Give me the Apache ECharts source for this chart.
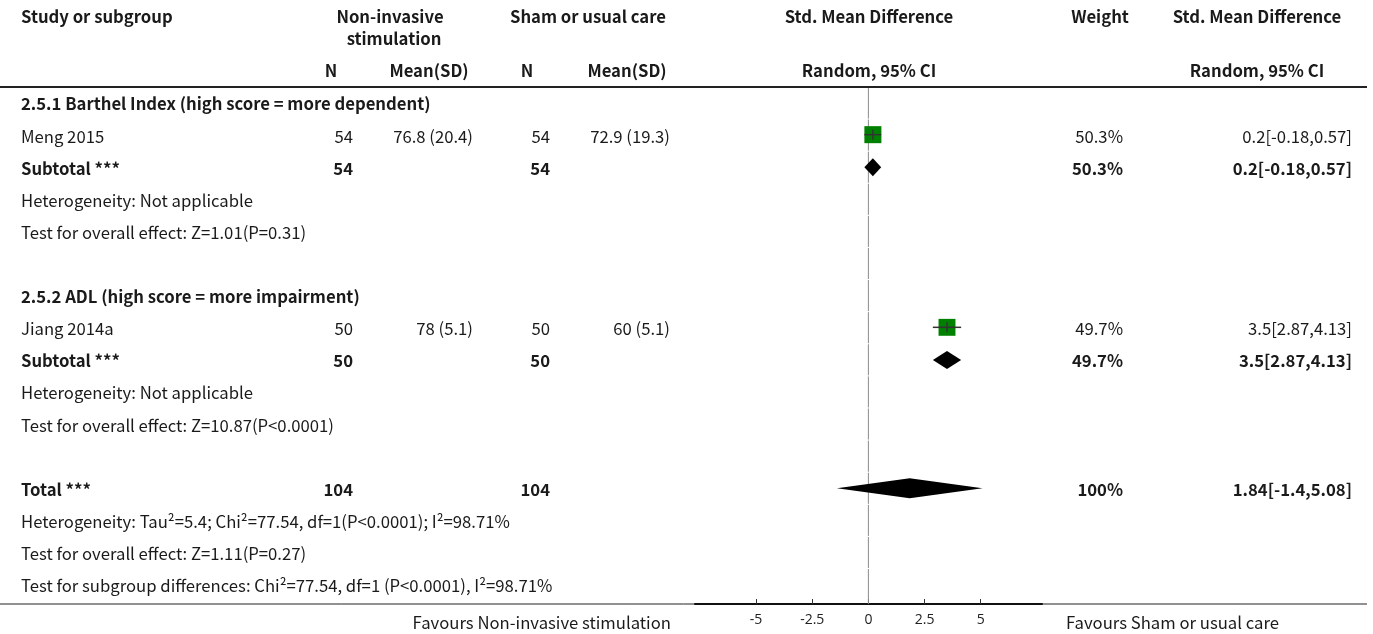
<!DOCTYPE html>
<html><head><meta charset="utf-8">
<script src="https://cdn.jsdelivr.net/npm/echarts@6/dist/echarts.min.js"></script>
<style>html,body{margin:0;padding:0;background:#fff}#c{width:1373px;height:634px}</style>
</head><body><div id="c"></div>
<script>
// ---- data ----
const rowLabels = [
  '2.5.1 Barthel Index (high score = more dependent)',
  'Meng 2015',
  'Subtotal ***',
  'Heterogeneity: Not applicable',
  'Test for overall effect: Z=1.01(P=0.31)',
  '',
  '2.5.2 ADL (high score = more impairment)',
  'Jiang 2014a',
  'Subtotal ***',
  'Heterogeneity: Not applicable',
  'Test for overall effect: Z=10.87(P<0.0001)',
  '',
  'Total ***',
  'Heterogeneity: Tau\u00B2=5.4; Chi\u00B2=77.54, df=1(P<0.0001); I\u00B2=98.71%',
  'Test for overall effect: Z=1.11(P=0.27)',
  'Test for subgroup differences: Chi\u00B2=77.54, df=1 (P<0.0001), I\u00B2=98.71%'
];
const boldRows = [0, 2, 6, 8, 12];
const expN      = ['', '54', '54', '', '', '', '', '50', '50', '', '', '', '104', '', '', ''];
const expMeanSD = ['', '76.8 (20.4)', '', '', '', '', '', '78 (5.1)', '', '', '', '', '', '', '', ''];
const ctrlN     = ['', '54', '54', '', '', '', '', '50', '50', '', '', '', '104', '', '', ''];
const ctrlMeanSD= ['', '72.9 (19.3)', '', '', '', '', '', '60 (5.1)', '', '', '', '', '', '', '', ''];
const weightText= ['', '50.3%', '50.3%', '', '', '', '', '49.7%', '49.7%', '', '', '', '100%', '', '', ''];
const ciText    = ['', '0.2[-0.18,0.57]', '0.2[-0.18,0.57]', '', '', '', '', '3.5[2.87,4.13]', '3.5[2.87,4.13]', '', '', '', '1.84[-1.4,5.08]', '', '', ''];

const studyRow = [1, 7];
const studyEst = [0.2, 3.5];
const studyLo  = [-0.18, 2.87];
const studyHi  = [0.57, 4.13];
const studyWeight = [50.3, 49.7];

const diamondRow = [2, 8, 12];
const diamondEst = [0.2, 3.5, 1.84];
const diamondLo  = [-0.18, 2.87, -1.4];
const diamondHi  = [0.57, 4.13, 5.08];

const axisTicks = [-5, -2.5, 0, 2.5, 5];
const favourLeft = 'Favours Non-invasive stimulation';
const favourRight = 'Favours Sham or usual care';

// ---- layout / style ----
const FONT = '"Noto Sans CJK SC", "Noto Sans", sans-serif';
const FS = 16.7;
const TXT = '#1a1a1a';
const col = { label: 21, n1: 353, m1: 473, n2: 550, m2: 670, w: 1123, ci: 1352 };

const chart = echarts.init(document.getElementById('c'), null, { renderer: 'canvas' });

function txt(x, y, s, align, bold) {
  return { type: 'text', x: x, y: y, style: { text: s, fill: TXT, font: (bold ? 'bold ' : '') + FS + 'px ' + FONT, align: align, verticalAlign: 'middle' } };
}

const tableData = rowLabels.map((l, i) => [0, i]);
const studyData = studyRow.map((r, i) => [r, studyEst[i], studyLo[i], studyHi[i], studyWeight[i]]);
const diamondData = diamondRow.map((r, i) => [r, diamondEst[i], diamondLo[i], diamondHi[i], r === 12 ? 20 : 18]);
const zeroSegs = rowLabels.map((l, i) => [i]);

const headerGraphics = [
  txt(col.label, 17, 'Study or subgroup', 'left', true),
  txt(390, 17, 'Non-invasive', 'center', true),
  txt(394, 39, 'stimulation', 'center', true),
  txt(588, 17, 'Sham or usual care', 'center', true),
  txt(869, 17, 'Std. Mean Difference', 'center', true),
  txt(1100, 17, 'Weight', 'center', true),
  txt(1257, 17, 'Std. Mean Difference', 'center', true),
  txt(331, 71, 'N', 'center', true),
  txt(429, 71, 'Mean(SD)', 'center', true),
  txt(527, 71, 'N', 'center', true),
  txt(627, 71, 'Mean(SD)', 'center', true),
  txt(869, 71, 'Random, 95% CI', 'center', true),
  txt(1257, 71, 'Random, 95% CI', 'center', true),
  { type: 'line', shape: { x1: 0, y1: 87, x2: 1367, y2: 87 }, style: { stroke: '#222', lineWidth: 2 } },
  { type: 'line', shape: { x1: 0, y1: 604, x2: 1367, y2: 604 }, style: { stroke: '#222', lineWidth: 1 } },
  txt(671, 623, favourLeft, 'right', false),
  txt(1066, 623, favourRight, 'left', false)
];

const option = {
  animation: false,
  grid: { left: 695, right: 331, top: 88, bottom: 30, containLabel: false },
  xAxis: {
    type: 'value', min: -7.72, max: 7.73,
    splitLine: { show: false },
    axisLine: { show: true, onZero: false, lineStyle: { color: '#111', width: 2 } },
    axisTick: { show: true, inside: true, length: 5, customValues: axisTicks, lineStyle: { color: '#333' } },
    axisLabel: { customValues: axisTicks, color: '#222', fontSize: 14, fontFamily: '"Open Sans", sans-serif', margin: 9 }
  },
  yAxis: { type: 'value', inverse: true, min: -0.5, max: 15.57, show: false },
  graphic: headerGraphics,
  series: [
    {
      type: 'custom', name: 'zero', data: zeroSegs, silent: true, z: 1,
      renderItem: function (p, api) {
        const i = api.value(0);
        const top = i === 0 ? api.coord([0, -0.5])[1] : api.coord([0, i - 0.55])[1] + 1;
        const bot = i === rowLabels.length - 1 ? api.coord([0, 15.57])[1] : api.coord([0, i + 0.45])[1];
        const x = api.coord([0, i])[0];
        return { type: 'line', shape: { x1: x, y1: top, x2: x, y2: bot }, style: { stroke: '#8a8a8a', lineWidth: 1 } };
      }
    },
    {
      type: 'custom', name: 'table', data: tableData, silent: true, z: 5,
      renderItem: function (p, api) {
        const i = api.value(1);
        const y = api.coord([0, i])[1];
        const b = boldRows.indexOf(i) >= 0;
        const ch = [];
        if (rowLabels[i]) ch.push(txt(col.label, y, rowLabels[i], 'left', b));
        if (expN[i]) ch.push(txt(col.n1, y, expN[i], 'right', b));
        if (expMeanSD[i]) ch.push(txt(col.m1, y, expMeanSD[i], 'right', b));
        if (ctrlN[i]) ch.push(txt(col.n2, y, ctrlN[i], 'right', b));
        if (ctrlMeanSD[i]) ch.push(txt(col.m2, y, ctrlMeanSD[i], 'right', b));
        if (weightText[i]) ch.push(txt(col.w, y, weightText[i], 'right', b));
        if (ciText[i]) ch.push(txt(col.ci, y, ciText[i], 'right', b));
        return { type: 'group', children: ch };
      }
    },
    {
      type: 'custom', name: 'studies', data: studyData, silent: true, z: 10,
      renderItem: function (p, api) {
        const row = api.value(0);
        const c = api.coord([api.value(1), row]);
        const pl = api.coord([api.value(2), row]);
        const ph = api.coord([api.value(3), row]);
        const s = Math.sqrt(api.value(4)) * 2.4;
        const cy = c[1] - 1.5;
        return { type: 'group', children: [
          { type: 'rect', shape: { x: c[0] - s / 2, y: cy - s / 2, width: s, height: s }, style: { fill: '#008000' } },
          { type: 'line', shape: { x1: pl[0], y1: cy, x2: ph[0], y2: cy }, style: { stroke: '#333', lineWidth: 1.5 } },
          { type: 'line', shape: { x1: c[0], y1: cy - 5, x2: c[0], y2: cy + 5 }, style: { stroke: '#333', lineWidth: 1.5 } }
        ] };
      }
    },
    {
      type: 'custom', name: 'diamonds', data: diamondData, silent: true, z: 10,
      renderItem: function (p, api) {
        const row = api.value(0);
        const c = api.coord([api.value(1), row]);
        const pl = api.coord([api.value(2), row]);
        const ph = api.coord([api.value(3), row]);
        const h = api.value(4);
        const cy = c[1] - 1;
        return { type: 'polygon', shape: { points: [[pl[0], cy], [c[0], cy - h / 2], [ph[0], cy], [c[0], cy + h / 2]] }, style: { fill: '#000' } };
      }
    }
  ]
};
chart.setOption(option);
</script>
</body></html>
